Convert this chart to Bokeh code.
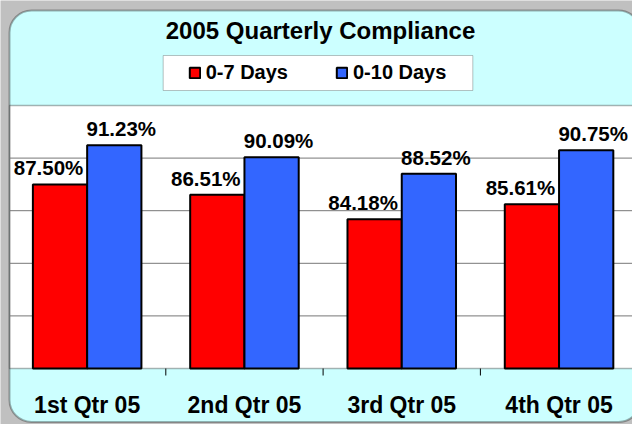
from bokeh.plotting import figure
from bokeh.models import (ColumnDataSource, Range1d, LabelSet, Label,
                          BoxAnnotation, Legend, LegendItem)
from bokeh.transform import dodge
from bokeh.core.properties import value
from bokeh.embed import file_html
from bokeh.resources import INLINE

# ---------------- data ----------------
title_text = "2005 Quarterly Compliance"
quarters = ["1st Qtr 05", "2nd Qtr 05", "3rd Qtr 05", "4th Qtr 05"]
series_names = ["0-7 Days", "0-10 Days"]
days_0_7 = [87.50, 86.51, 84.18, 85.61]
days_0_10 = [91.23, 90.09, 88.52, 90.75]
y_ticks = [70, 75, 80, 85, 90, 95]

# ---------------- style / layout ----------------
RED = "#ff0000"
BLUE = "#3366ff"
PANEL = "#ccffff"
GRAY = "#c0c0c0"
FONT = "Liberation Sans"

W, H = 632, 424
Y0, Y1 = y_ticks[0], y_ticks[-1]
PXX = 157.3                      # pixels per category
PXY = (368 - 105) / (Y1 - Y0)    # pixels per percentage point
X_START = -8 / PXX
X_END = (W - 8) / PXX
Y_START = Y0 - (H - 368) / PXY
Y_END = Y1 + 105 / PXY
BAR_W = 0.345


def dx(px):
    """page pixel (from left) -> data x"""
    return X_START + px / PXX


def dy(py):
    """page pixel (from top) -> data y"""
    return Y_END - py / PXY


pos = [i + 0.5 for i in range(len(quarters))]
bounds = list(range(1, len(quarters)))
src = ColumnDataSource(dict(
    x=pos, q=quarters, a=days_0_7, b=days_0_10,
    la=[f"{v:.2f}%" for v in days_0_7],
    lb=[f"{v:.2f}%" for v in days_0_10],
))

fig = figure(width=W, height=H, x_range=Range1d(X_START, X_END),
             y_range=Range1d(Y_START, Y_END),
             output_backend="svg", toolbar_location=None,
             x_axis_location=None, y_axis_location=None,
             min_border=0, min_border_top=0, min_border_bottom=0,
             min_border_left=0, min_border_right=0)
fig.border_fill_color = GRAY
fig.background_fill_color = GRAY
fig.outline_line_color = None
fig.grid.visible = False

# outer rounded panel
fig.add_layout(BoxAnnotation(left=dx(9), right=dx(640), top=dy(10), bottom=dy(421.5),
                             fill_color=PANEL, fill_alpha=1, line_color=None,
                             border_radius=22, level="image"))
# plot area
fig.add_layout(BoxAnnotation(left=dx(9), right=dx(645), top=Y1, bottom=Y0,
                             fill_color="white", fill_alpha=1, line_color="black",
                             line_width=1.3, level="image"))
# panel border on top
fig.add_layout(BoxAnnotation(left=dx(9), right=dx(640), top=dy(10), bottom=dy(421.5),
                             fill_color=None, fill_alpha=0, line_color="black", line_width=2,
                             border_radius=22, level="image"))
# legend box
fig.add_layout(BoxAnnotation(left=dx(162.7), right=dx(472.3), top=dy(55), bottom=dy(90),
                             fill_color="white", fill_alpha=1, line_color="#333333",
                             line_width=1, level="image"))

# horizontal gridlines
grid_y = y_ticks[1:-1]
fig.segment(x0=[dx(9)] * len(grid_y), x1=[dx(645)] * len(grid_y), y0=grid_y, y1=grid_y,
            line_color="#777777", line_width=1, level="underlay")

# tick marks between categories
fig.segment(x0=bounds, x1=bounds, y0=[Y0] * len(bounds), y1=[Y0 - 7 / PXY] * len(bounds),
            line_color="black", line_width=1, level="underlay")

r1 = fig.vbar(x=dodge("x", -BAR_W / 2, range=fig.x_range), top="a", bottom=Y0,
              width=BAR_W, source=src, fill_color=RED, line_color="black", line_width=2)
r2 = fig.vbar(x=dodge("x", BAR_W / 2, range=fig.x_range), top="b", bottom=Y0,
              width=BAR_W, source=src, fill_color=BLUE, line_color="black", line_width=2)

common = dict(text_align="center", text_baseline="alphabetic", text_font=value(FONT),
              text_font_style="bold", text_font_size="20.5px", text_color="black")
fig.add_layout(LabelSet(x=dodge("x", -BAR_W / 2, range=fig.x_range), y="a", text="la",
                        x_offset=-11.5, y_offset=9, source=src, **common))
fig.add_layout(LabelSet(x=dodge("x", BAR_W / 2, range=fig.x_range), y="b", text="lb",
                        x_offset=7, y_offset=9, source=src, **common))

# category labels
fig.text(x="x", y=dy(404), text="q", source=src, text_align="center",
         text_baseline="alphabetic", text_font=value(FONT), text_font_style="bold",
         text_font_size="23px", text_color="black")

fig.add_layout(Label(x=dx(320), y=dy(30), text=title_text, text_align="center",
                     text_baseline="alphabetic", text_font=FONT, text_font_style="bold",
                     text_font_size="24px", text_color="black"))

legend = Legend(items=[LegendItem(label=series_names[0], renderers=[r1]),
                       LegendItem(label=series_names[1], renderers=[r2])],
                orientation="horizontal", location=(187.7, H - 72.3 - 11.5),
                glyph_width=13, glyph_height=13, label_standoff=5, spacing=47,
                label_height=23, padding=0, margin=0,
                border_line_color=None, background_fill_alpha=0,
                label_text_font=FONT, label_text_font_style="bold",
                label_text_font_size="20px", label_text_color="black")
fig.add_layout(legend)

p = fig
open("out.html", "w").write(file_html(p, INLINE))
